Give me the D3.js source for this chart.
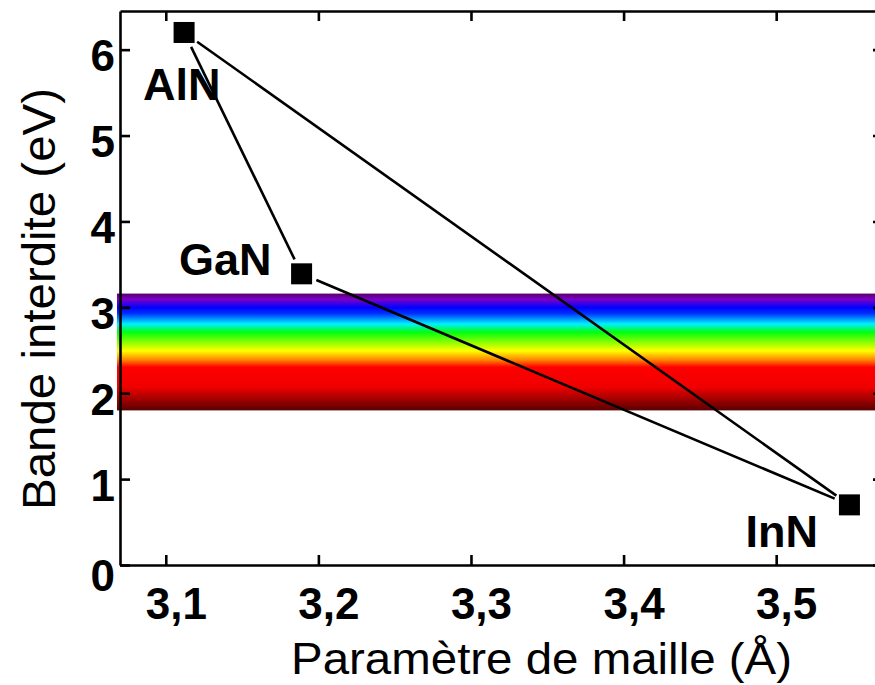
<!DOCTYPE html>
<html>
<head>
<meta charset="utf-8">
<script src="https://cdn.jsdelivr.net/npm/d3@7"></script>
<style>
  html, body { margin: 0; padding: 0; background: #fff; }
  svg { display: block; }
</style>
</head>
<body>
<svg id="chart" width="875" height="685"></svg>
<script>
// ---- data ----
const materials = ["AlN", "GaN", "InN"];
const latticeA = [3.112, 3.189, 3.548];   // Å
const bandGap = [6.2, 3.39, 0.7];         // eV
const links = [[0, 1], [1, 2], [0, 2]];
const visibleRange = [1.8, 3.16];         // eV (visible spectrum band)
const xTicks = [3.1, 3.2, 3.3, 3.4, 3.5];
const xTickLabels = ["3,1", "3,2", "3,3", "3,4", "3,5"];
const yTicks = [0, 1, 2, 3, 4, 5, 6];
const yTickLabels = ["0", "1", "2", "3", "4", "5", "6"];
const xTitle = "Paramètre de maille (Å)";
const yTitle = "Bande interdite (eV)";
const spectrumStops = [
  [0.00, "#5a0068"], [0.05, "#7a00c8"], [0.12, "#0000ff"], [0.17, "#0030ff"],
  [0.23, "#00b0ff"], [0.26, "#00f0ff"], [0.33, "#00ff10"], [0.43, "#a0ff00"],
  [0.49, "#ffff00"], [0.57, "#ff8000"], [0.63, "#ff0000"], [0.80, "#f00000"],
  [1.00, "#5a0000"]
];

// ---- layout ----
const L = 120, R = 883, T = 11, B = 565;
const FONT = "'Liberation Sans', Arial, Helvetica, sans-serif";
const svg = d3.select("#chart");
svg.append("rect").attr("width", 875).attr("height", 685).attr("fill", "#fff");

const x = d3.scaleLinear().domain([3.07, 3.57]).range([L, R]);
const y = d3.scaleLinear().domain([0, 6.45]).range([B, T]);

// gradient
const defs = svg.append("defs");
const grad = defs.append("linearGradient").attr("id", "spec")
  .attr("x1", 0).attr("y1", 0).attr("x2", 0).attr("y2", 1);
grad.selectAll("stop").data(spectrumStops).join("stop")
  .attr("offset", d => d[0]).attr("stop-color", d => d[1]);

svg.append("rect")
  .attr("x", L - 3).attr("width", R - L + 10)
  .attr("y", y(visibleRange[1]))
  .attr("height", y(visibleRange[0]) - y(visibleRange[1]))
  .attr("fill", "url(#spec)");

// axes
function styleAxis(g) {
  g.selectAll("path.domain").attr("stroke", "#000").attr("stroke-width", 2.6);
  g.selectAll(".tick line").attr("stroke", "#000").attr("stroke-width", 2.6);
  g.selectAll(".tick text").attr("fill", "#000")
    .style("font-family", FONT).style("font-weight", "bold").style("font-size", "44px");
}

const gx = svg.append("g").attr("transform", `translate(0,${B})`)
  .call(d3.axisBottom(x).tickValues(xTicks).tickSize(-10).tickSizeOuter(0)
    .tickPadding(23).tickFormat((d, i) => xTickLabels[i]));
styleAxis(gx);
gx.selectAll(".tick text").attr("dx", 10);

const gy = svg.append("g").attr("transform", `translate(${L},0)`)
  .call(d3.axisLeft(y).tickValues(yTicks).tickSize(-10).tickSizeOuter(0)
    .tickPadding(5).tickFormat((d, i) => yTickLabels[i]));
styleAxis(gy);
gy.selectAll(".tick text").attr("y", d => d === 0 ? 11 : 7);

const gt = svg.append("g").attr("transform", `translate(0,${T})`)
  .call(d3.axisTop(x).tickValues(xTicks).tickSize(-10).tickSizeOuter(0).tickFormat(""));
styleAxis(gt);

const gr = svg.append("g").attr("transform", `translate(${R},0)`)
  .call(d3.axisRight(y).tickValues(yTicks).tickSize(-10).tickSizeOuter(0).tickFormat(""));
styleAxis(gr);

// connecting lines with gaps near markers
const GAP = 16;
svg.append("g").selectAll("line").data(links).join("line")
  .each(function (d) {
    const x1 = x(latticeA[d[0]]), y1 = y(bandGap[d[0]]);
    const x2 = x(latticeA[d[1]]), y2 = y(bandGap[d[1]]);
    const len = Math.hypot(x2 - x1, y2 - y1);
    const ux = (x2 - x1) / len, uy = (y2 - y1) / len;
    d3.select(this)
      .attr("x1", x1 + ux * GAP).attr("y1", y1 + uy * GAP)
      .attr("x2", x2 - ux * GAP).attr("y2", y2 - uy * GAP);
  })
  .attr("stroke", "#000").attr("stroke-width", 2.6);

// markers
const S = 21;
svg.append("g").selectAll("rect").data(materials).join("rect")
  .attr("x", (d, i) => x(latticeA[i]) - S / 2)
  .attr("y", (d, i) => y(bandGap[i]) - S / 2)
  .attr("width", S).attr("height", S).attr("fill", "#000");

// labels
const labelOffset = { AlN: [-41, 68], GaN: [-30, 1, "end"], InN: [-104, 42] };
svg.append("g").selectAll("text").data(materials).join("text")
  .attr("x", (d, i) => x(latticeA[i]) + labelOffset[d][0])
  .attr("y", (d, i) => y(bandGap[i]) + labelOffset[d][1])
  .attr("text-anchor", d => labelOffset[d][2] || "start")
  .style("font-family", FONT).style("font-weight", "bold").style("font-size", "45px")
  .attr("fill", "#000")
  .text(d => d);

// titles
svg.append("text")
  .attr("x", 291).attr("y", 674)
  .attr("textLength", 501).attr("lengthAdjust", "spacingAndGlyphs")
  .style("font-family", FONT).style("font-size", "45px").attr("fill", "#000")
  .text(xTitle);

svg.append("text")
  .attr("transform", "translate(55,299) rotate(-90)")
  .attr("text-anchor", "middle")
  .attr("textLength", 422).attr("lengthAdjust", "spacingAndGlyphs")
  .style("font-family", FONT).style("font-size", "47px").attr("fill", "#000")
  .text(yTitle);
</script>
</body>
</html>
